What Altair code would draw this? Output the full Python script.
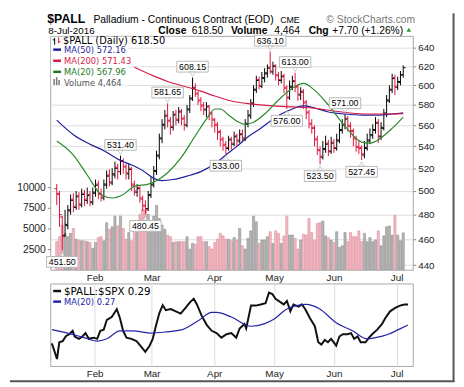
import altair as alt
import pandas as pd

# ---------------- data ----------------
opens = [502, 498, 478, 463, 471, 483, 493, 486, 496, 488, 498, 492, 497, 490, 498, 506, 497, 494, 505, 514,
         507, 514, 521, 517, 526, 521, 515, 520, 505, 499, 503, 493, 487, 485, 497, 505, 517, 531, 547, 560,
         570, 565, 558, 571, 565, 574, 567, 560, 575, 587, 598, 591, 585, 580, 575, 579, 572, 565, 561, 554,
         547, 542, 538, 547, 542, 550, 545, 552, 547, 561, 569, 581, 595, 606, 599, 607, 612, 619, 614, 621,
         610, 605, 610, 598, 587, 598, 605, 599, 590, 594, 583, 573, 561, 558, 547, 536, 530, 537, 543, 535,
         544, 538, 545, 555, 560, 567, 560, 555, 548, 539, 539, 532, 538, 545, 550, 555, 563, 549, 557, 571,
         584, 595, 608, 598, 603, 611]
highs = [506, 500, 479, 484, 488, 497, 498, 500, 499, 502, 501, 503, 500, 503, 510, 509, 502, 510, 518, 519,
         520, 526, 524, 531.4, 529, 524, 524, 521, 509, 506, 504, 496, 492, 500, 512, 522, 536, 552, 566, 575,
         581.65, 568, 574, 575, 578, 576, 570, 580, 590, 608.15, 602, 594, 588, 583, 583, 580, 573, 567, 563, 556,
         549, 545, 550, 549, 554, 552, 556, 556, 566, 575, 586, 600, 610, 609, 614, 618, 622, 636.1, 625, 622,
         614, 615, 612, 600, 605, 610, 613, 601, 598, 596, 585, 575, 566, 560, 550, 540, 545, 550, 546, 549,
         547, 552, 562, 566, 571, 569, 563, 557, 550, 546, 541, 545, 552, 557, 561, 568, 566, 563, 576, 590,
         600, 612, 611, 609, 615, 621]
lows = [488, 470, 451.5, 462, 468, 480, 482, 484, 484, 486, 487, 489, 487, 488, 495, 493, 491, 492, 502, 504,
        505, 511, 510, 514, 515, 510, 510, 500, 496, 495, 490, 483, 480.45, 483, 494, 503, 514, 528, 543, 556,
        558, 551, 555, 560, 562, 560, 555, 558, 572, 584, 588, 580, 574, 570, 568, 565, 558, 553, 546, 540,
        536, 533, 536, 537, 540, 540, 543, 544, 545, 558, 566, 578, 592, 596, 597, 603, 608, 612, 611, 605,
        600, 602, 592, 576, 585, 595, 593, 584, 585, 576, 566, 557, 552, 540, 532, 523.5, 528, 534, 531, 533,
        534, 536, 543, 552, 556, 554, 548, 540, 535, 533, 527.45, 529, 536, 542, 547, 552, 543, 546, 555, 568,
        582, 592, 590, 595, 600, 608]
closes = [497, 480, 462, 472, 484, 492, 487, 495, 489, 497, 493, 496, 491, 499, 505, 498, 495, 506, 513, 508,
          515, 520, 517, 527, 522, 516, 519, 506, 500, 502, 494, 488, 484, 496, 506, 518, 532, 548, 561, 569,
          564, 559, 570, 566, 573, 566, 561, 576, 586, 597, 592, 584, 579, 576, 578, 571, 566, 560, 553, 546,
          541, 539, 546, 543, 549, 546, 551, 548, 562, 570, 582, 596, 605, 600, 608, 613, 618, 615, 620, 611,
          606, 609, 597, 588, 599, 604, 598, 591, 593, 582, 572, 562, 557, 546, 537, 531, 538, 542, 536, 543,
          539, 546, 556, 561, 566, 559, 554, 547, 540, 538, 533, 539, 546, 551, 556, 562, 550, 558, 572, 585,
          596, 607, 599, 604, 610.8, 618.5]
volumes = [3400, 4000, 5400, 4400, 4000, 4400, 5000, 3700, 3600, 3500, 3500, 3400, 3300, 2600, 3300, 3900,
           4000, 3500, 5700, 4900, 5200, 6500, 5300, 6500, 5000, 3700, 4500, 3500, 5400, 4500,
           6700, 7300, 7200, 6700, 4900, 6500, 7800, 6200, 5400, 4900, 4200, 4000, 3300, 3400, 3400, 3400,
           3400, 4000, 2500, 3200, 3100, 4000, 4000, 3400, 3400, 2800, 2500, 3300, 3700, 4400, 4100, 3700, 3700,
           3500, 3900, 3600, 5000, 2900, 2500, 3800, 4700, 6500, 5800, 3200, 3600, 3600, 4000, 4600, 3200,
           4700, 4400, 3200, 4100, 6500, 4200, 4200, 3800, 2500, 3600, 4300, 4200, 6200, 4500, 3600, 5600,
           5700, 5900, 4100, 3900, 3600, 3300, 4600, 2700, 2900, 4500, 3400, 4500, 4000, 4000, 4700, 3400,
           4400, 3400, 3900, 3400, 3600, 4700, 2900, 4100, 5200, 5300, 4200, 6600, 4200, 3500, 4464]

month_idx = [15, 35, 57, 78, 99, 121]
month_lbl = ["Feb", "Mar", "Apr", "May", "Jun", "Jul"]

ma50_idx = [0, 6, 12, 17, 23, 27, 31, 35, 38, 42, 47, 52, 57, 61, 65, 69, 73, 77, 81, 85, 89, 93, 98, 104, 110, 116, 121, 125]
ma50_val = [565, 551, 542, 536, 527, 523, 518, 511, 509, 510, 513, 517, 524, 532, 540, 549, 556, 564, 571, 576,
            579, 577, 573, 571, 570, 570, 571, 572.16]
ma200_idx = [28, 34, 40, 46, 52, 57, 63, 70, 78, 85, 92, 100, 106, 112, 118, 125]
ma200_val = [619, 611, 604, 599, 594, 589, 584, 581, 579, 578, 577, 574, 572, 571, 571, 571.43]
ma20_idx = [0, 6, 11, 16, 20, 24, 28, 33, 36, 40, 45, 50, 54, 57, 59, 62, 65, 68, 71, 75, 80, 85, 89, 93, 98,
            104, 110, 113, 117, 121, 125]
ma20_val = [545, 532, 514, 497, 494, 497, 504, 506, 509, 516, 530, 550, 566, 576, 576, 570, 564, 561, 563, 571,
            585, 597, 602, 595, 580, 559, 544, 543, 548, 557, 567.96]

hi_idx = [23, 40, 49, 77, 86, 104]
hi_val = [531.40, 581.65, 608.15, 636.10, 613.00, 571.00]
hi_txt = ["531.40", "581.65", "608.15", "636.10", "613.00", "571.00"]
lo_idx = [2, 32, 61, 83, 95, 110]
lo_val = [451.50, 480.45, 533.00, 576.00, 523.50, 527.45]
lo_txt = ["451.50", "480.45", "533.00", "576.00", "523.50", "527.45"]

ratio_idx = [0, 1.8, 2.6, 3.8, 4.9, 6.1, 7.3, 8, 9.5, 10.7, 11.8, 13, 14.7, 15.9, 17, 18.2, 19.3, 21, 22.8, 23.9,
             25, 26.2, 27.9, 29.7, 31.4, 32.8, 34.3, 35.4, 36.6, 37.7, 38.9, 40, 41.7, 43.5, 45.2, 46.9, 48.6,
             49.8, 50.9, 52.6, 54.4, 56.1, 57.8, 59.5, 61.3, 63, 64.7, 65.9, 67.6, 68.2, 69.9, 71.6, 73.3, 75,
             76.2, 77.4, 78.5, 80.2, 81.4, 82.5, 83.7, 84.8, 86.6, 87.7, 88.9, 90.6, 92.3, 93.5, 94.6, 95.8,
             96.9, 98, 99.8, 100.9, 102.1, 103.8, 105, 106.1, 107.3, 108.4, 110.1, 111.3, 112.4, 114.2, 115.9,
             117, 118.7, 120.5, 122.2, 123.7, 125]
ratio_val = [0.256, 0.2424, 0.257, 0.258, 0.2623, 0.264, 0.267, 0.262, 0.260, 0.262, 0.265, 0.260, 0.261, 0.260,
             0.267, 0.268, 0.2766, 0.279, 0.2858, 0.278, 0.267, 0.261, 0.260, 0.258, 0.253, 0.2486, 0.254, 0.260,
             0.272, 0.2823, 0.2894, 0.285, 0.286, 0.284, 0.282, 0.287, 0.2923, 0.295, 0.290, 0.280, 0.272, 0.267,
             0.265, 0.261, 0.264, 0.265, 0.261, 0.269, 0.273, 0.269, 0.289, 0.289, 0.290, 0.291, 0.3003, 0.299,
             0.295, 0.292, 0.290, 0.293, 0.284, 0.290, 0.288, 0.290, 0.286, 0.278, 0.271, 0.257, 0.255, 0.259,
             0.257, 0.260, 0.254, 0.262, 0.264, 0.264, 0.265, 0.260, 0.262, 0.257, 0.257, 0.261, 0.264, 0.268,
             0.273, 0.278, 0.284, 0.287, 0.289, 0.290, 0.290]
rma_idx = [0, 5.5, 11.3, 15.9, 19.3, 23.9, 28.5, 34.3, 40, 45.8, 51.5, 56.1, 57.8, 63, 69.9, 74.5, 77.9, 82.5,
           89.4, 94, 99.8, 105.5, 110.7, 113.6, 118.1, 121.6, 125]
rma_val = [0.268, 0.265, 0.261, 0.258, 0.260, 0.267, 0.267, 0.265, 0.266, 0.268, 0.276, 0.283, 0.283, 0.279,
           0.271, 0.273, 0.277, 0.286, 0.290, 0.286, 0.274, 0.267, 0.260, 0.261, 0.264, 0.268, 0.272]

price_ticks = [440, 460, 480, 500, 520, 540, 560, 580, 600, 620, 640]
vol_ticks = [2500, 5000, 7500, 10000]
ratio_ticks = [0.24, 0.25, 0.26, 0.27, 0.28, 0.29, 0.30]

# ---------------- tables ----------------
prev = [opens[0]] + closes[:-1]
direction = ["up" if c >= p else "down" for c, p in zip(closes, prev)]
df = pd.DataFrame({"idx": list(range(len(closes))), "open": opens, "high": highs, "low": lows,
                   "close": closes, "volume": volumes, "dir": direction})
hi_df = pd.DataFrame({"idx": hi_idx, "val": hi_val, "txt": hi_txt})
lo_df = pd.DataFrame({"idx": lo_idx, "val": lo_val, "txt": lo_txt})

# ---------------- style ----------------
UP, DOWN = "#000000", "#e0143c"
VOL_UP, VOL_UP_S = "#b6b6b6", "#8e8e8e"
VOL_DN, VOL_DN_S = "#f2b9c3", "#dc8c9b"
GRID = "#dddddd"
SANS = "Liberation Sans"
VER = "DejaVu Sans"
W, H_MAIN, H_LOW = 369, 238, 84
P_DOMAIN = [436.5, 653.4]

xscale = alt.Scale(domain=[-0.57, 126.67], nice=False, zero=False)
vscale = alt.Scale(domain=[0, 28333], nice=False)
rscale = alt.Scale(domain=[0.2363, 0.3083], nice=False, zero=False)
month_expr = " : ".join(f"datum.value == {v} ? '{m}'" for v, m in zip(month_idx, month_lbl)) + " : ''"


def pscale():
    return alt.Scale(type="log", domain=P_DOMAIN, nice=False, zero=False)


xi = alt.X("idx:Q", scale=xscale, axis=None)
dir_color = alt.Color("dir:N", scale=alt.Scale(domain=["up", "down"], range=[UP, DOWN]), legend=None)
one = pd.DataFrame({"t": [""]})


def txt(s, x, y, size=10.5, weight="normal", color="#000000", font=SANS, align="left", baseline="alphabetic"):
    return alt.Chart(pd.DataFrame({"t": [s]})).mark_text(
        align=align, baseline=baseline, fontSize=size, fontWeight=weight, color=color, font=font
    ).encode(text="t:N", x=alt.value(x), y=alt.value(y))


def hrule(x1, x2, y, color, width=1.0):
    return alt.Chart(one).mark_rule(color=color, strokeWidth=width).encode(
        x=alt.value(x1), x2=alt.value(x2), y=alt.value(y))


def vrule(x, y1, y2, color, width=1.0):
    return alt.Chart(one).mark_rule(color=color, strokeWidth=width).encode(
        x=alt.value(x), y=alt.value(y1), y2=alt.value(y2))


def box(x1, x2, y1, y2, color="white", opacity=1.0):
    return alt.Chart(one).mark_rect(color=color, opacity=opacity).encode(
        x=alt.value(x1), x2=alt.value(x2), y=alt.value(y1), y2=alt.value(y2))


# ---------------- main panel ----------------
vol = alt.Chart(df).mark_bar(size=2.2, strokeWidth=0.6).encode(
    x=alt.X("idx:Q", scale=xscale, axis=alt.Axis(values=month_idx, labels=False, ticks=False, domain=False,
                                                 grid=True, gridColor=GRID, title=None)),
    y=alt.Y("volume:Q", scale=vscale, axis=alt.Axis(orient="left", values=vol_ticks, grid=False, domain=False,
                                                    tickSize=3, tickColor="#888888", labelPadding=2, format="d",
                                                    labelFontSize=10.5, title=None)),
    fill=alt.Fill("dir:N", scale=alt.Scale(domain=["up", "down"], range=[VOL_UP, VOL_DN]), legend=None),
    stroke=alt.Stroke("dir:N", scale=alt.Scale(domain=["up", "down"], range=[VOL_UP_S, VOL_DN_S]), legend=None),
)

# price grid + right axis (own layer so it sits under the bars)
price_axis_layer = alt.Chart(df).mark_rule(opacity=0).encode(
    x=xi,
    y=alt.Y("close:Q", scale=pscale(), axis=alt.Axis(orient="right", values=price_ticks, grid=True,
                                                     gridColor=GRID, domain=False, tickSize=3,
                                                     tickColor="#888888", labelPadding=2, labelFontSize=10,
                                                     format="d", title=None)))

hl = alt.Chart(df).mark_rule(strokeWidth=1).encode(
    x=xi, y=alt.Y("low:Q", scale=pscale(), axis=None), y2="high:Q", color=dir_color)
op = alt.Chart(df).mark_rule(strokeWidth=1, xOffset=-2.4, x2Offset=0).encode(
    x=xi, x2="idx:Q", y=alt.Y("open:Q", scale=pscale(), axis=None), color=dir_color)
cl = alt.Chart(df).mark_rule(strokeWidth=1, xOffset=0, x2Offset=2.4).encode(
    x=xi, x2="idx:Q", y=alt.Y("close:Q", scale=pscale(), axis=None), color=dir_color)


def ma_line(ix, vals, color):
    d = pd.DataFrame({"idx": ix, "val": vals})
    return alt.Chart(d).mark_line(color=color, strokeWidth=1.2, interpolate="monotone").encode(
        x=xi, y=alt.Y("val:Q", scale=pscale(), axis=None))


ma50 = ma_line(ma50_idx, ma50_val, "#1f1f9c")
ma200 = ma_line(ma200_idx, ma200_val, "#d41e48")
ma20 = ma_line(ma20_idx, ma20_val, "#2a8a2a")


def ann_y():
    return alt.Y("val:Q", scale=pscale(), axis=None)


hi_box = alt.Chart(hi_df).mark_rect(fill="white", stroke="#b8b8b8", strokeWidth=1, xOffset=-16, x2Offset=16,
                                    yOffset=-16.5, y2Offset=-5.5).encode(x=xi, x2="idx:Q", y=ann_y(), y2="val:Q")
hi_ptr = alt.Chart(hi_df).mark_point(shape="triangle-down", size=28, filled=True, fill="white",
                                     stroke="#b8b8b8", strokeWidth=1, yOffset=-3.5).encode(x=xi, y=ann_y())
hi_lab = alt.Chart(hi_df).mark_text(fontSize=9, font=SANS, color="#000000", dy=-11, baseline="middle").encode(
    x=xi, y=ann_y(), text="txt:N")
lo_box = alt.Chart(lo_df).mark_rect(fill="white", stroke="#b8b8b8", strokeWidth=1, xOffset=-16, x2Offset=16,
                                    yOffset=6.5, y2Offset=17.5).encode(x=xi, x2="idx:Q", y=ann_y(), y2="val:Q")
lo_ptr = alt.Chart(lo_df).mark_point(shape="triangle-up", size=28, filled=True, fill="white",
                                     stroke="#b8b8b8", strokeWidth=1, yOffset=4).encode(x=xi, y=ann_y())
lo_lab = alt.Chart(lo_df).mark_text(fontSize=9, font=SANS, color="#000000", dy=12, baseline="middle").encode(
    x=xi, y=ann_y(), text="txt:N")

price_layers = [price_axis_layer, hl, op, cl, ma50, ma200, ma20, hi_box, hi_ptr, hi_lab, lo_box, lo_ptr, lo_lab]

decor = [
    box(-41, -40, -23, -22, opacity=0),          # layout anchor (top-left of page)
    # in-panel legend
    box(1, 134, 1, 9.5), box(1, 79, 9.5, 50.5),
    vrule(4.5, 2, 9, "#000000"), hrule(2.5, 4.5, 4, "#000000"),
    vrule(8.5, 1.5, 7.5, "#e0143c"), hrule(8.5, 10.5, 6, "#e0143c"),
    txt("$PALL (Daily) 618.50", 13, 8, size=10, font=VER),
    hrule(3, 11, 14, "#1f1f9c", 2.5), txt("MA(50) 572.16", 14, 17.2, size=8.5, font=VER, color="#1f1f9c"),
    hrule(3, 11, 25.3, "#d41e48", 2.5), txt("MA(200) 571.43", 14, 28.4, size=8.5, font=VER, color="#d41e48"),
    hrule(3, 11, 36.6, "#1f7a1f", 2.5), txt("MA(20) 567.96", 14, 39.6, size=8.5, font=VER, color="#1f7a1f"),
    vrule(4, 44, 50, "#777777", 1.5), vrule(6.5, 42, 50, "#777777", 1.5), vrule(9, 45, 50, "#777777", 1.5),
    txt("Volume 4,464", 14, 50.8, size=8.5, font=VER, color="#555555"),
    # header
    txt("$PALL", -3, -13.2, size=12.5, weight="bold"),
    txt("Palladium - Continuous Contract (EOD)", 44, -13.2, size=10.5),
    txt("CME", 234, -13.2, size=9),
    txt("\u00a9 StockCharts.com", 281, -13.2, size=10.5, color="#777777"),
    txt("8-Jul-2016", -2, -2.0, size=10),
    txt("Close", 110, -2.4, size=10.5, weight="bold"),
    txt("618.50", 144, -2.4, size=10.5),
    txt("Volume", 184, -2.4, size=10.5, weight="bold"),
    txt("4,464", 228, -2.4, size=10.5),
    txt("Chg", 263, -2.4, size=10.5, weight="bold"),
    txt("+7.70 (+1.26%)", 287, -2.4, size=10.5),
    alt.Chart(one).mark_point(shape="triangle-up", size=22, filled=True, color="#2a9a2a", opacity=1).encode(
        x=alt.value(365), y=alt.value(-6.3)),
]

main = alt.layer(vol, *price_layers, *decor).resolve_scale(y="independent").properties(width=W, height=H_MAIN)

# ---------------- lower panel ----------------
ratio_df = pd.DataFrame({"idx": ratio_idx, "val": ratio_val})
rma_df = pd.DataFrame({"idx": rma_idx, "val": rma_val})

ratio_line = alt.Chart(ratio_df).mark_line(color="#111111", strokeWidth=2).encode(
    x=alt.X("idx:Q", scale=xscale, axis=alt.Axis(orient="bottom", values=month_idx, labelExpr=month_expr,
                                                 grid=True, gridColor=GRID, ticks=False, domain=False,
                                                 labelPadding=3, labelFontSize=10, title=None)),
    y=alt.Y("val:Q", scale=rscale, axis=alt.Axis(orient="right", values=ratio_ticks, format=".2f", grid=True,
                                                 gridColor=GRID, domain=False, tickSize=3, tickColor="#888888",
                                                 labelPadding=2, labelFontSize=10, title=None)))
rma_line = alt.Chart(rma_df).mark_line(color="#2424a8", strokeWidth=1.2, interpolate="monotone").encode(
    x=alt.X("idx:Q", scale=xscale, axis=alt.Axis(orient="top", values=month_idx, labelExpr=month_expr,
                                                 grid=False, ticks=False, domain=False, labelPadding=1.5,
                                                 labelFontSize=10, title=None)),
    y=alt.Y("val:Q", scale=rscale, axis=None))

lower_decor = [
    hrule(3, 11, 7.7, "#111111", 2.5),
    txt("$PALL:$SPX 0.29", 14, 11.5, size=10.5, font=VER),
    hrule(3, 11, 18.5, "#2424a8", 2.5),
    txt("MA(20) 0.27", 14, 21.8, size=8.5, font=VER, color="#2424a8"),
    vrule(410.5, -275, 100, "#555555", 2),
    hrule(-41, 411.5, 99.5, "#555555", 2),
]

lower = alt.layer(ratio_line, rma_line, *lower_decor).resolve_axis(x="independent").properties(
    width=W, height=H_LOW)

chart = alt.vconcat(main, lower, spacing=14, bounds="flush", padding=0).configure_view(
    stroke="#a6a6a6", strokeWidth=1
).configure_axis(labelFont=SANS, labelColor="#222222")

chart.save("out.html", embed_options={"renderer": "svg", "actions": False})
